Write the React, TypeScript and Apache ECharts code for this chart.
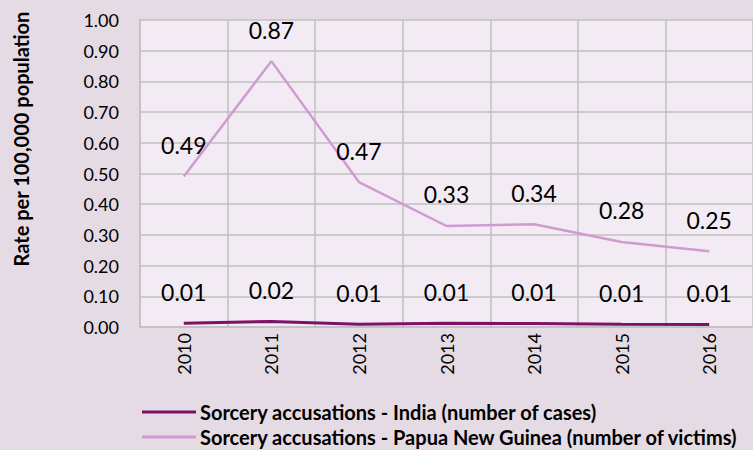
import React, { useEffect, useRef } from "react";
import * as echarts from "echarts";

const years = ["2010", "2011", "2012", "2013", "2014", "2015", "2016"];
const india = [0.012, 0.018, 0.009, 0.012, 0.011, 0.009, 0.008];
const png = [0.49, 0.866, 0.472, 0.329, 0.335, 0.277, 0.247];
const seriesNames = [
  "Sorcery accusations - India (number of cases)",
  "Sorcery accusations - Papua New Guinea (number of victims)",
];
const yTitle = "Rate per 100,000 population";

const FONT = "Lato, 'Noto Sans', sans-serif";

export default function App() {
  const ref = useRef<HTMLDivElement>(null);
  useEffect(() => {
    const chart = echarts.init(ref.current!, null, { renderer: "svg" });
    const labelCfg = {
      show: true,
      position: "top" as const,
      distance: 20,
      fontSize: 23,
      fontFamily: FONT,
      color: "#000",
      formatter: (p: any) => Number(p.value).toFixed(2),
    };
    chart.setOption({
      animation: false,
      backgroundColor: "#E5DBE4",
      textStyle: { fontFamily: FONT },
      grid: {
        left: 140,
        right: -12,
        top: 20,
        bottom: 123,
        show: true,
        backgroundColor: "#F3EBF3",
        borderWidth: 0,
      },
      graphic: [
        {
          type: "text",
          x: 21,
          y: 139,
          rotation: Math.PI / 2,
          style: {
            text: yTitle,
            align: "center",
            verticalAlign: "middle",
            fontSize: 20,
            fontWeight: "bold",
            fontFamily: FONT,
            fill: "#000",
          },
        },
      ],
      legend: {
        orient: "vertical",
        left: 142,
        top: 402,
        padding: 0,
        itemWidth: 54,
        itemHeight: 3,
        itemGap: 5,
        icon: "rect",
        textStyle: {
          fontSize: 20,
          lineHeight: 20,
          fontWeight: "bold",
          color: "#000",
          fontFamily: FONT,
          padding: [0, 0, 0, -1],
        },
        data: seriesNames,
      },
      xAxis: {
        type: "category",
        data: years,
        boundaryGap: true,
        axisLine: { show: true, lineStyle: { color: "#C0C0C0", width: 1.5 } },
        axisTick: { show: false },
        splitLine: { show: true, lineStyle: { color: "#C0C0C0", width: 1.5 } },
        axisLabel: { rotate: 90, fontSize: 18, color: "#000", margin: 6, fontFamily: FONT },
      },
      yAxis: {
        type: "value",
        min: 0,
        max: 1,
        interval: 0.1,
        axisLine: { show: true, lineStyle: { color: "#C0C0C0", width: 1.5 } },
        axisTick: { show: false },
        splitLine: { show: true, lineStyle: { color: "#C0C0C0", width: 1.5 } },
        axisLabel: {
          fontSize: 18,
          color: "#000",
          margin: 21,
          fontFamily: FONT,
          formatter: (v: number) => v.toFixed(2),
        },
      },
      series: [
        {
          name: seriesNames[0],
          type: "line",
          data: india,
          symbol: "circle",
          symbolSize: 0.1,
          showSymbol: true,
          lineStyle: { color: "#7D1166", width: 3 },
          itemStyle: { color: "#7D1166" },
          label: labelCfg,
          z: 3,
        },
        {
          name: seriesNames[1],
          type: "line",
          data: png,
          symbol: "circle",
          symbolSize: 0.1,
          showSymbol: true,
          lineStyle: { color: "#D09CD0", width: 2.5 },
          itemStyle: { color: "#D09CD0" },
          label: labelCfg,
          z: 2,
        },
      ],
    });
    return () => chart.dispose();
  }, []);
  return <div ref={ref} style={{ width: 753, height: 450, position: "absolute", left: 0, top: 0 }} />;
}
